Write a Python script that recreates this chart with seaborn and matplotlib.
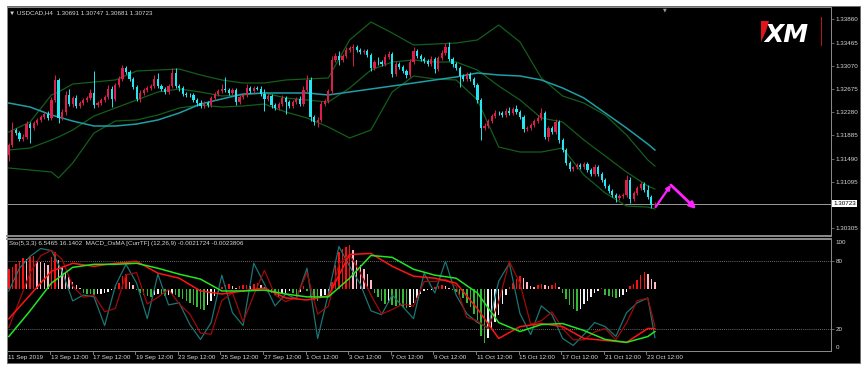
import numpy as np
import matplotlib
matplotlib.use("Agg")
import matplotlib.pyplot as plt
from matplotlib.patches import Rectangle, Polygon
from matplotlib.lines import Line2D
import seaborn as sns

# ------------------------------------------------------------------ data
symbol_header = "\u25BC USDCAD,H4  1.30691 1.30747 1.30681 1.30723"
indicator_header = "Sto(5,3,3) 6.5465 16.1402  MACD_OsMA [CurrTF] (12,26,9) -0.0021724 -0.0023806"

first_open = 1.31550
closes = [
    1.31720, 1.31976, 1.31925, 1.31823, 1.31857, 1.32078, 1.32010, 1.32095, 1.32147, 1.32198,
    1.32249, 1.32181, 1.32487, 1.32828, 1.32181, 1.32283, 1.32573, 1.32419, 1.32522, 1.32385,
    1.32436, 1.32487, 1.32522, 1.32607, 1.32402, 1.32436, 1.32487, 1.32539, 1.32675, 1.32504,
    1.32743, 1.32846, 1.33033, 1.32965, 1.32846, 1.32709, 1.32504, 1.32607, 1.32658, 1.32692,
    1.32726, 1.32846, 1.32726, 1.32675, 1.32624, 1.32726, 1.32948, 1.32726, 1.32692, 1.32590,
    1.32573, 1.32570, 1.32487, 1.32436, 1.32385, 1.32436, 1.32402, 1.32522, 1.32590, 1.32641,
    1.32675, 1.32658, 1.32607, 1.32658, 1.32453, 1.32539, 1.32573, 1.32692, 1.32641, 1.32692,
    1.32680, 1.32590, 1.32504, 1.32556, 1.32402, 1.32351, 1.32419, 1.32522, 1.32453, 1.32385,
    1.32453, 1.32504, 1.32419, 1.32658, 1.32828, 1.32198, 1.32112, 1.32147, 1.32419, 1.32470,
    1.32641, 1.33170, 1.33238, 1.33170, 1.33238, 1.33340, 1.33374, 1.33391, 1.33340, 1.33306,
    1.33320, 1.33255, 1.33033, 1.33135, 1.33130, 1.33101, 1.33221, 1.33272, 1.32931, 1.33101,
    1.33050, 1.32982, 1.32914, 1.33135, 1.33323, 1.33238, 1.33187, 1.33152, 1.33101, 1.33187,
    1.33016, 1.33204, 1.33289, 1.33391, 1.33187, 1.33101, 1.33033, 1.32897, 1.32846, 1.32931,
    1.32846, 1.32743, 1.32487, 1.32010, 1.32044, 1.32129, 1.32215, 1.32266, 1.32262, 1.32232,
    1.32300, 1.32266, 1.32334, 1.32283, 1.32198, 1.31993, 1.32010, 1.32061, 1.32129, 1.32181,
    1.32266, 1.31857, 1.32010, 1.31942, 1.32112, 1.31806, 1.31635, 1.31413, 1.31311, 1.31340,
    1.31379, 1.31345, 1.31396, 1.31294, 1.31226, 1.31345, 1.31226, 1.31123, 1.31021, 1.30936,
    1.30868, 1.30817, 1.30851, 1.30868, 1.31123, 1.30800, 1.30902, 1.30987, 1.31055, 1.30953,
    1.30834, 1.30691, 1.30723,
]
upper_wick_pips = [
    4, 14, 3, 3, 5, 6, 4, 3, 4, 3,
    4, 5, 6, 8, 4, 5, 6, 10, 4, 5,
    3, 4, 4, 6, 37, 4, 3, 4, 6, 5,
    4, 5, 5, 4, 3, 4, 4, 5, 3, 3,
    4, 6, 10, 4, 3, 4, 8, 8, 4, 3,
    3, 3, 4, 3, 5, 4, 3, 4, 3, 4,
    8, 20, 4, 3, 4, 4, 3, 6, 3, 4,
    3, 4, 8, 4, 4, 3, 4, 5, 3, 4,
    3, 4, 5, 6, 8, 6, 3, 5, 6, 3,
    4, 6, 5, 8, 4, 5, 4, 5, 3, 3,
    3, 4, 4, 4, 8, 4, 5, 5, 4, 5,
    3, 3, 3, 5, 6, 4, 3, 3, 4, 5,
    4, 4, 5, 6, 8, 3, 3, 4, 3, 4,
    3, 4, 4, 4, 5, 4, 4, 5, 3, 4,
    5, 6, 4, 6, 4, 3, 3, 4, 4, 5,
    8, 4, 4, 3, 5, 4, 4, 3, 3, 3,
    4, 3, 4, 3, 3, 5, 3, 3, 3, 3,
    3, 3, 4, 3, 8, 5, 4, 4, 4, 3,
    8, 4, 2.4,
]
lower_wick_pips = [
    10, 4, 3, 4, 4, 4, 25, 3, 3, 4,
    3, 4, 4, 4, 8, 4, 5, 4, 5, 4,
    4, 3, 3, 3, 5, 4, 3, 4, 4, 13,
    3, 4, 4, 3, 4, 3, 4, 5, 4, 3,
    3, 4, 3, 4, 4, 3, 4, 4, 5, 3,
    4, 3, 4, 5, 4, 3, 4, 3, 3, 3,
    3, 3, 4, 3, 5, 4, 4, 3, 4, 3,
    3, 4, 20, 4, 5, 4, 4, 3, 20, 4,
    4, 3, 4, 3, 4, 6, 5, 8, 4, 3,
    3, 5, 4, 8, 4, 4, 3, 30, 4, 3,
    3, 4, 5, 4, 4, 4, 4, 3, 5, 4,
    4, 3, 5, 4, 4, 4, 3, 4, 4, 4,
    6, 4, 3, 4, 3, 5, 4, 18, 3, 4,
    4, 4, 5, 20, 4, 3, 3, 4, 3, 3,
    4, 3, 4, 3, 4, 5, 4, 3, 4, 3,
    4, 4, 6, 4, 4, 5, 4, 3, 4, 3,
    3, 3, 3, 4, 3, 4, 3, 4, 3, 4,
    3, 6, 4, 3, 4, 6, 3, 4, 4, 3,
    4, 5, 1.0,
]

band_idx = [0, 6, 12, 14, 18, 24, 30, 36, 42, 48, 54, 60, 66, 72, 78, 84, 90,
            96, 102, 108, 114, 120, 126, 132, 138, 144, 150, 156, 162, 168, 174, 180, 182]
bb_upper = [1.31942, 1.32112, 1.32573, 1.32624, 1.32760, 1.32794, 1.32829, 1.32982, 1.32999,
            1.33016, 1.32914, 1.32829, 1.32777, 1.32777, 1.32829, 1.32846, 1.32863, 1.33511,
            1.33817, 1.33630, 1.33425, 1.33442, 1.33459, 1.33511, 1.33766, 1.33476, 1.32863,
            1.32556, 1.32436, 1.32232, 1.31891, 1.31465, 1.31362]
bb_mid = [1.31635, 1.31669, 1.31806, 1.31857, 1.31976, 1.32215, 1.32351, 1.32488, 1.32624,
          1.32675, 1.32624, 1.32556, 1.32573, 1.32607, 1.32522, 1.32488, 1.32453, 1.32692,
          1.32999, 1.33135, 1.33170, 1.33135, 1.33135, 1.32999, 1.32726, 1.32488, 1.32181,
          1.32112, 1.31806, 1.31533, 1.31260, 1.31021, 1.30970]
bb_lower = [1.31328, 1.31294, 1.31260, 1.31158, 1.31413, 1.31925, 1.32129, 1.32147, 1.32232,
            1.32351, 1.32402, 1.32368, 1.32385, 1.32419, 1.32283, 1.32181, 1.32027, 1.31840,
            1.31976, 1.32624, 1.32897, 1.32846, 1.32829, 1.32488, 1.31686, 1.31601, 1.31601,
            1.31669, 1.31209, 1.30902, 1.30680, 1.30663, 1.30629]
ma_slow = [1.32436, 1.32368, 1.32232, 1.32198, 1.32129, 1.32044, 1.32044, 1.32078, 1.32147,
           1.32266, 1.32419, 1.32505, 1.32590, 1.32607, 1.32607, 1.32607, 1.32573, 1.32624,
           1.32675, 1.32726, 1.32777, 1.32829, 1.32880, 1.32948, 1.32914, 1.32897, 1.32829,
           1.32692, 1.32522, 1.32266, 1.32010, 1.31737, 1.31635]

price_ticks = [1.33860, 1.33465, 1.33070, 1.32675, 1.32280, 1.31885, 1.31490, 1.31095, 1.30305]
last_price = 1.30723

date_labels = ["11 Sep 2019", "13 Sep 12:00", "17 Sep 12:00", "19 Sep 12:00", "23 Sep 12:00",
               "25 Sep 12:00", "27 Sep 12:00", "1 Oct 12:00", "3 Oct 12:00", "7 Oct 12:00",
               "9 Oct 12:00", "11 Oct 12:00", "15 Oct 12:00", "17 Oct 12:00", "21 Oct 12:00",
               "23 Oct 12:00"]
date_label_idx = [0, 12, 24, 36, 48, 60, 72, 84, 96, 108, 120, 132, 144, 156, 168, 180]

stoch_idx = list(range(0, 181, 3)) + [182]
stoch_main = [53.6, 73.9, 84.5, 91.5, 89.7, 71.2, 44.7, 50.0, 48.3, 22.7, 58.0, 77.4, 60.6,
              28.9, 68.6, 41.2, 43.0, 23.6, 10.3, 25.4, 67.7, 34.2, 22.7, 78.3, 59.8, 40.3,
              50.9, 46.5, 73.9, 11.2, 50.9, 93.3, 75.6, 59.8, 35.9, 32.4, 50.0, 39.5, 28.9,
              69.5, 51.8, 80.1, 50.0, 33.3, 25.4, 21.0, 62.4, 78.3, 33.3, 14.7, 40.3, 32.4,
              11.2, 5.0, 14.7, 25.4, 21.8, 13.0, 34.2, 43.0, 47.4, 12.0]
stoch_signal = [21, 45, 70, 85, 90, 82, 58, 48, 50, 35, 38, 68, 70, 42, 48, 55, 42, 33, 16,
                15, 45, 52, 26, 50, 72, 50, 44, 48, 70, 33, 40, 78, 86, 70, 50, 33, 37, 42,
                40, 62, 62, 64, 58, 30, 27, 20, 44, 80, 60, 24, 27, 35, 20, 10, 10, 17, 20,
                10, 25, 45, 47, 22]

macd_idx = list(range(0, 181, 6)) + [182]
macd_line = [28.8, 50.0, 71.2, 78.3, 75.6, 78.3, 80.0, 69.5, 65.0, 53.6, 50.9, 53.6, 56.2,
             47.4, 45.6, 49.2, 86.2, 87.1, 75.6, 66.8, 65.0, 60.6, 37.7, 11.2, 21.8, 24.5,
             21.8, 11.2, 9.4, 7.7, 20.1, 20.1]
macd_signal = [12.9, 35.9, 60.6, 74.7, 77.4, 77.4, 78.3, 73.9, 68.6, 64.2, 53.6, 53.6, 54.4,
               50.9, 48.3, 48.3, 65.0, 85.3, 83.6, 73.0, 67.7, 65.0, 51.8, 25.4, 17.4, 23.6,
               24.5, 18.3, 10.3, 7.7, 12.9, 17.4]

osma_base = 55
osma = [
    18.5, 20.2, 22.9, 25.5, 28.2, 27.3, 29.0, 29.9, 25.5, 24.6,
    23.8, 22.0, 29.0, 33.4, 26.4, 20.2, 15.8, 11.4, 7.0, 3.5,
    0.9, -3.5, -4.0, -4.4, -5.3, -4.4, -4.2, -3.5, -2.6, -0.9,
    1.8, 5.3, 12.3, 14.1, 7.0, 3.5, -0.9, -3.5, -5.3, -6.2,
    -7.0, -5.3, -4.4, -5.3, -6.2, -5.3, -4.4, -5.3, -7.0, -8.8,
    -10.6, -12.3, -14.1, -15.8, -17.6, -18.5, -14.1, -10.6, -6.2, -2.6,
    1.8, 3.5, 4.4, 2.6, 0.9, 2.6, 3.5, 3.6, 3.4, 4.4,
    5.3, 3.5, 1.8, -0.9, -3.5, -5.3, -7.0, -4.4, -3.5, -1.8,
    -3.5, -5.3, -2.6, 2.6, -1.8, -7.0, -9.7, -10.6, -7.9, -5.3,
    -3.5, 7.0, 22.0, 33.4, 36.1, 37.8, 39.6, 35.2, 26.4, 22.0,
    18.5, 14.1, 8.8, -3.5, -7.0, -10.6, -13.2, -12.3, -14.1, -15.0,
    -15.2, -15.8, -16.7, -15.8, -12.3, -7.9, -4.4, -1.8, -0.9, -0.5,
    1.8, 2.6, 3.5, 2.6, 0.9, -0.9, -2.6, -5.3, -7.9, -12.3,
    -15.8, -22.0, -28.2, -41.4, -47.5, -43.1, -35.2, -29.0, -22.9, -13.2,
    -5.3, 1.8, 5.3, 9.7, 12.3, 10.6, 6.2, 2.6, 1.8, 3.5,
    4.4, 3.5, 2.6, 3.5, 5.3, 1.8, -3.5, -8.8, -14.1, -17.6,
    -19.4, -17.6, -13.2, -10.6, -7.0, -3.5, -1.8, 0.9, -5.3, -6.2,
    -7.0, -7.5, -7.0, -5.3, -2.6, 2.6, 4.4, 8.8, 13.2, 15.8,
    14.1, 9.7, 7.0,
]

forecast_idx = [182.2, 186.5, 193.6]
forecast_price = [1.30663, 1.31038, 1.30629]

# ------------------------------------------------------------------ style
plt.rcParams['font.family'] = ['Liberation Sans', 'DejaVu Sans']
BULL = '#dc1e4a'
BEAR = '#25e6f0'
BB_COL = '#135e1b'
MA_COL = '#1f9ea6'
GRID_GRAY = '#8c8c8c'
TXT = '#d8d8d8'
FS = 4.5

W, H = 868, 373
def fx(x):
    return x / W
def fy(y):
    return 1 - y / H

fig = plt.figure(figsize=(8.68, 3.73), dpi=100)
fig.patch.set_facecolor('white')
fig.add_artist(Rectangle((fx(7), fy(363)), (860 - 7) / W, (363 - 6) / H,
                         transform=fig.transFigure, facecolor='black',
                         edgecolor='#6a6a6a', linewidth=0.6, zorder=0))

ax = fig.add_axes([fx(7), fy(236), (831 - 7) / W, (236 - 7) / H])
ax2 = fig.add_axes([fx(7), fy(351), (831 - 7) / W, (351 - 239) / H])

# ------------------------------------------------------------------ candles
n = len(closes)
idx = np.arange(n)
c = np.array(closes)
o = np.concatenate([[first_open], c[:-1]])
hi = np.maximum(o, c) + np.array(upper_wick_pips) * 1e-4
lo = np.minimum(o, c) - np.array(lower_wick_pips) * 1e-4
cols = [BULL if cc >= oo else BEAR for oo, cc in zip(o, c)]

ax.vlines(idx, lo, hi, colors=cols, linewidth=0.7, zorder=3)
ax.bar(idx, np.maximum(np.abs(c - o), 0.00004), bottom=np.minimum(o, c), width=0.62,
       color=cols, linewidth=0, zorder=4)

# indicator lines on the price panel
for series, col, lw in [(bb_upper, BB_COL, 0.9), (bb_mid, BB_COL, 0.9),
                        (bb_lower, BB_COL, 0.9), (ma_slow, MA_COL, 1.1)]:
    sns.lineplot(x=band_idx, y=series, ax=ax, color=col, linewidth=lw,
                 estimator=None, sort=False, legend=False, zorder=2)

ax.axhline(last_price, color='#9c9c9c', linewidth=0.7, zorder=1)

# forecast arrows
ax.annotate('', xy=(forecast_idx[1], forecast_price[1]),
            xytext=(forecast_idx[0], forecast_price[0]),
            arrowprops=dict(arrowstyle='-|>', color='#ff22ff', lw=1.6,
                            mutation_scale=6, shrinkA=0, shrinkB=0), zorder=6)
ax.annotate('', xy=(forecast_idx[2], forecast_price[2]),
            xytext=(forecast_idx[1], forecast_price[1]),
            arrowprops=dict(arrowstyle='-|>', color='#ff22ff', lw=2.0,
                            mutation_scale=9, shrinkA=0, shrinkB=0), zorder=6)

ax.set_facecolor('black')
ax.set_xlim(-0.507, 231.6)
ax.set_ylim(1.30169, 1.34073)
ax.set_xticks([])
ax.yaxis.tick_right()
ax.set_yticks(price_ticks)
ax.set_yticklabels([f"{p:.5f}" for p in price_ticks])
ax.tick_params(axis='y', colors=GRID_GRAY, labelcolor=TXT, labelsize=FS,
               length=2, width=0.5, pad=1.5)
ax.set_xlabel('')
ax.set_ylabel('')
for s in ax.spines.values():
    s.set_color(GRID_GRAY)
    s.set_linewidth(0.7)
ax.spines['bottom'].set_linewidth(1.4)

ax.text(1.003, last_price, f"{last_price:.5f}", transform=ax.get_yaxis_transform(),
        fontsize=FS, color='black', ha='left', va='center',
        bbox=dict(facecolor='white', edgecolor='none', pad=0.7))

# ------------------------------------------------------------------ lower panel
hist_cols = []
prev = 0.0
for v in osma:
    if v >= 0:
        hist_cols.append('#ff1010' if v >= prev else '#ffb8c6')
    else:
        hist_cols.append('#35b935' if v <= prev else '#f2f2f2')
    prev = v
ax2.bar(idx, osma, bottom=osma_base, width=0.42, color=hist_cols, linewidth=0, zorder=2)

ax2.axhline(80, color=GRID_GRAY, linewidth=0.6, linestyle=(0, (1, 1.5)), zorder=1)
ax2.axhline(20, color=GRID_GRAY, linewidth=0.6, linestyle=(0, (1, 1.5)), zorder=1)

sns.lineplot(x=stoch_idx, y=stoch_main, ax=ax2, color='#1c7474', linewidth=0.9,
             estimator=None, sort=False, legend=False, zorder=3)
sns.lineplot(x=stoch_idx, y=stoch_signal, ax=ax2, color='#a00a0a', linewidth=0.9,
             estimator=None, sort=False, legend=False, zorder=3)
sns.lineplot(x=macd_idx, y=macd_line, ax=ax2, color='#ff1414', linewidth=1.1,
             estimator=None, sort=False, legend=False, zorder=4)
sns.lineplot(x=macd_idx, y=macd_signal, ax=ax2, color='#22e622', linewidth=1.1,
             estimator=None, sort=False, legend=False, zorder=4)

ax2.set_facecolor('black')
ax2.set_xlim(-0.507, 231.6)
ax2.set_ylim(0, 100)
ax2.set_xticks([])
ax2.yaxis.tick_right()
ax2.set_yticks([80, 20])
ax2.set_yticklabels(['80', '20'])
ax2.tick_params(axis='y', colors=GRID_GRAY, labelcolor=TXT, labelsize=FS,
                length=2, width=0.5, pad=1.5)
ax2.set_xlabel('')
ax2.set_ylabel('')
for s in ax2.spines.values():
    s.set_color(GRID_GRAY)
    s.set_linewidth(0.7)
ax2.spines['top'].set_linewidth(1.4)
ax2.text(1.006, 97, '100', transform=ax2.get_yaxis_transform(), fontsize=FS,
         color=TXT, ha='left', va='center')
ax2.text(1.006, 3.5, '0', transform=ax2.get_yaxis_transform(), fontsize=FS,
         color=TXT, ha='left', va='center')

# time axis labels
xt = ax2.get_xaxis_transform()
for lab, i in zip(date_labels, date_label_idx):
    ax2.add_line(Line2D([i - 0.4, i - 0.4], [0, -0.03], transform=xt, color=GRID_GRAY,
                        linewidth=0.6, clip_on=False))
    ax2.text(i - 0.2, -0.055, lab, transform=xt, fontsize=FS, color=TXT,
             ha='left', va='center', clip_on=False)

# ------------------------------------------------------------------ headers & logo
fig.text(fx(9), fy(13), symbol_header, fontsize=FS, color=TXT, ha='left', va='center')
fig.text(fx(9), fy(243.5), indicator_header, fontsize=FS, color=TXT, ha='left', va='center')
fig.text(fx(665), fy(9.5), '\u25BC', fontsize=3.5, color='#9a9a9a', ha='center', va='center',
         family=['DejaVu Sans'])

fig.add_artist(Polygon([(fx(761), fy(21)), (fx(769), fy(21)), (fx(766), fy(31)),
                        (fx(761), fy(42))], closed=True, transform=fig.transFigure,
                       facecolor='#e0151b', edgecolor='none', zorder=5))
fig.text(fx(764), fy(42), 'XM', fontsize=18, color='white', fontweight='bold',
         fontstyle='italic', ha='left', va='baseline', family=['DejaVu Sans'])
fig.add_artist(Line2D([fx(821), fx(821)], [fy(17), fy(45)], transform=fig.transFigure,
                      color='#c0141a', linewidth=0.7))

fig.savefig('out.png', dpi=100, facecolor='white')
